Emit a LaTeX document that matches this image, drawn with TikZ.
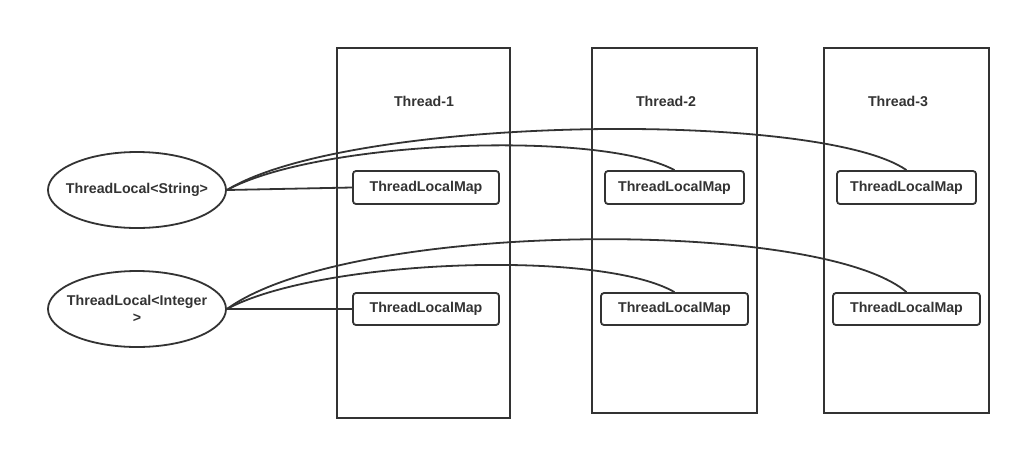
\documentclass[tikz,border=0pt]{standalone}
\usepackage{fontspec}
\setmainfont{Liberation Sans}
\usetikzlibrary{shapes.geometric}
\definecolor{ink}{HTML}{333333}
\begin{document}
\begin{tikzpicture}[x=1pt,y=-1pt,
  every node/.style={text=ink,font=\bfseries\fontsize{14.2}{17}\selectfont},
  thread/.style={draw=ink,line width=1.8pt,fill=none},
  mapbox/.style={draw=ink,line width=1.8pt,rounded corners=3pt,inner sep=0pt},
  tl/.style={draw=ink,line width=1.8pt,ellipse,minimum width=178pt,minimum height=76pt,inner sep=0pt},
  link/.style={draw=ink,line width=1.8pt}]
\useasboundingbox (0,0) rectangle (1021,451);
% threads
\draw[thread] (337,48) rectangle (510,418);
\draw[thread] (592,48) rectangle (757,413);
\draw[thread] (824,48) rectangle (989,413);
\node (t1) at (424,101) {Thread-1};
\node (t2) at (666,101) {Thread-2};
\node (t3) at (898,101) {Thread-3};
% thread locals
\node[tl] (s) at (137,190) {};
\node (slabel) at (s.center) {ThreadLocal<String>};
\node[tl] (i) at (137,309) {};
\node[align=center] (ilabel) at (i.center) {ThreadLocal<Integer\\>};
% maps
\node[mapbox,minimum width=146pt,minimum height=33pt] (m11) at (426,187.5) {ThreadLocalMap};
\node[mapbox,minimum width=139pt,minimum height=33pt] (m21) at (674.5,187.5) {ThreadLocalMap};
\node[mapbox,minimum width=139pt,minimum height=33pt] (m31) at (906.5,187.5) {ThreadLocalMap};
\node[mapbox,minimum width=146pt,minimum height=32pt] (m12) at (426,309) {ThreadLocalMap};
\node[mapbox,minimum width=147pt,minimum height=32pt] (m22) at (674.5,309) {ThreadLocalMap};
\node[mapbox,minimum width=147pt,minimum height=32pt] (m32) at (906.5,309) {ThreadLocalMap};
% links row 1
\draw[link] (s.east) -- (m11.west);
\draw[link] (s.east) .. controls (320,140) and (600,130) .. (m21.north);
\draw[link] (s.east) .. controls (350,115) and (820,110) .. (m31.north);
% links row 2
\draw[link] (i.east) -- (m12.west);
\draw[link] (i.east) .. controls (320,259) and (600,249) .. (m22.north);
\draw[link] (i.east) .. controls (350,220) and (820,218) .. (m32.north);
\end{tikzpicture}
\end{document}
